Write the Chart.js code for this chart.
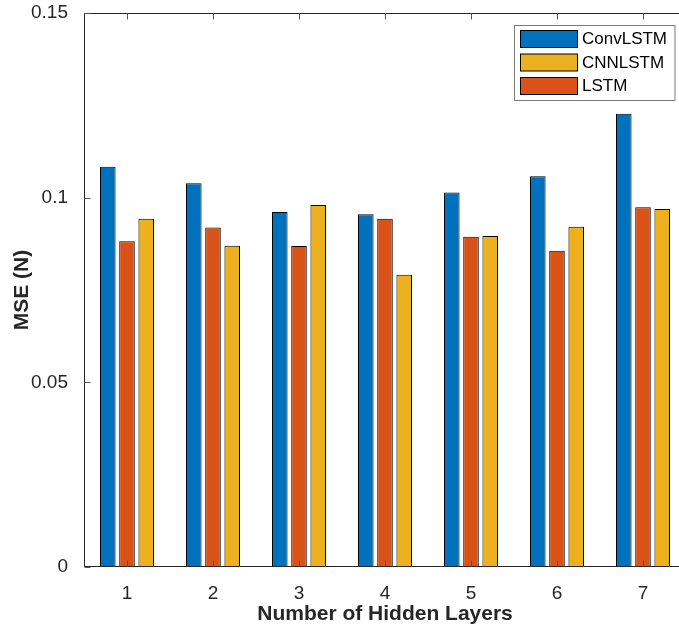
<!DOCTYPE html>
<html>
<head>
<meta charset="utf-8">
<script src="https://cdn.jsdelivr.net/npm/chart.js@4/dist/chart.umd.min.js"></script>
<style>
  html, body { margin: 0; padding: 0; background: #fff; overflow: hidden; }
  #wrap { position: absolute; left: 0; top: 0; width: 690px; height: 633px; }
</style>
</head>
<body>
<div id="wrap"><canvas id="c" width="690" height="633"></canvas></div>
<script>
// ---- data ----
const categories = ['1', '2', '3', '4', '5', '6', '7'];
const seriesNames = ['ConvLSTM', 'LSTM', 'CNNLSTM'];
const convLSTM = [0.1084, 0.1039, 0.0961, 0.0955, 0.1014, 0.1058, 0.1227];
const lstm     = [0.0882, 0.0919, 0.0869, 0.0943, 0.0894, 0.0856, 0.0974];
const cnnLSTM  = [0.0943, 0.0870, 0.0980, 0.0791, 0.0896, 0.0921, 0.0969];
const yTickLabels = ['0', '0.05', '0.1', '0.15'];
const legendOrder = [0, 2, 1]; // ConvLSTM, CNNLSTM, LSTM
const xTitle = 'Number of Hidden Layers';
const yTitle = 'MSE (N)';

const colors = ['#0072BD', '#D95319', '#EDB120'];
const FONT = '"Liberation Sans", Arial, Helvetica, sans-serif';
const AX = '#262626';

const axesBox = {
  id: 'axesBox',
  afterDraw(chart) {
    const { ctx, chartArea: a, scales: { x, y } } = chart;
    ctx.save();
    ctx.strokeStyle = AX;
    ctx.lineWidth = 1;
    const L = Math.round(a.left) + 0.5, R = Math.round(a.right) + 0.5;
    const T = Math.round(a.top) + 0.5, B = Math.round(a.bottom) - 0.5;
    ctx.beginPath();
    ctx.moveTo(L, B); ctx.lineTo(R, B); ctx.lineTo(R, T); ctx.lineTo(L, T); ctx.closePath();
    ctx.stroke();
    ctx.strokeStyle = '#555';
    ctx.beginPath();
    const tl = 6;
    x.ticks.forEach((t, i) => {
      const px = Math.round(x.getPixelForTick(i)) + 0.5;
      ctx.moveTo(px, B); ctx.lineTo(px, B - tl);
      ctx.moveTo(px, T); ctx.lineTo(px, T + tl);
    });
    y.ticks.forEach((t, i) => {
      const py = Math.round(y.getPixelForTick(i)) + 0.5;
      ctx.moveTo(L, py); ctx.lineTo(L + tl, py);
      ctx.moveTo(R, py); ctx.lineTo(R - tl, py);
    });
    ctx.stroke();

    // legend
    const bx = 514.5, by = 25.5, bw = 160.5, bh = 75;
    ctx.fillStyle = '#fff';
    ctx.fillRect(bx, by, bw, bh);
    ctx.strokeStyle = '#7a7a7a';
    ctx.strokeRect(bx, by, bw, bh);
    ctx.font = '17px ' + FONT;
    ctx.textBaseline = 'middle';
    ctx.textAlign = 'left';
    legendOrder.forEach((di, r) => {
      const ds = chart.data.datasets[di];
      const sy = 30.5 + r * 23.5;
      ctx.fillStyle = ds.backgroundColor;
      ctx.fillRect(520.5, sy, 57, 17);
      ctx.strokeStyle = '#000';
      ctx.strokeRect(520.5, sy, 57, 17);
      ctx.fillStyle = '#000';
      ctx.fillText(ds.label, 582, sy + 9);
    });
    ctx.restore();
  }
};

new Chart(document.getElementById('c'), {
  type: 'bar',
  data: {
    labels: categories,
    datasets: [convLSTM, lstm, cnnLSTM].map((d, i) => ({
      label: seriesNames[i],
      data: d,
      backgroundColor: colors[i],
      borderColor: '#000',
      borderWidth: 1,
      borderSkipped: false,
      categoryPercentage: 0.67,
      barPercentage: 0.81
    }))
  },
  options: {
    responsive: false,
    animation: false,
    events: [],
    layout: { padding: { top: 13, right: 4, bottom: 0, left: 0 } },
    plugins: { legend: { display: false }, tooltip: { enabled: false } },
    scales: {
      x: {
        grid: { display: false },
        border: { display: false },
        ticks: { color: AX, font: { family: FONT, size: 19 }, padding: 7, maxRotation: 0 },
        title: { display: true, text: xTitle, color: AX, font: { family: FONT, size: 21, weight: 'bold' }, padding: { top: 0, bottom: 6 } },
        afterFit(s) { s.height = 66; s.paddingLeft = 0; s.paddingRight = 0; }
      },
      y: {
        min: 0, max: 0.15,
        grid: { display: false },
        border: { display: false },
        ticks: {
          stepSize: 0.05, color: AX, font: { family: FONT, size: 19 }, padding: 8,
          callback: (v, i) => yTickLabels[i]
        },
        title: { display: true, text: yTitle, color: AX, font: { family: FONT, size: 21, weight: 'bold' }, padding: { top: 10, bottom: 0 } },
        afterFit(s) { s.width = 84; s.paddingTop = 0; s.paddingBottom = 0; }
      }
    }
  },
  plugins: [axesBox]
});
</script>
</body>
</html>
